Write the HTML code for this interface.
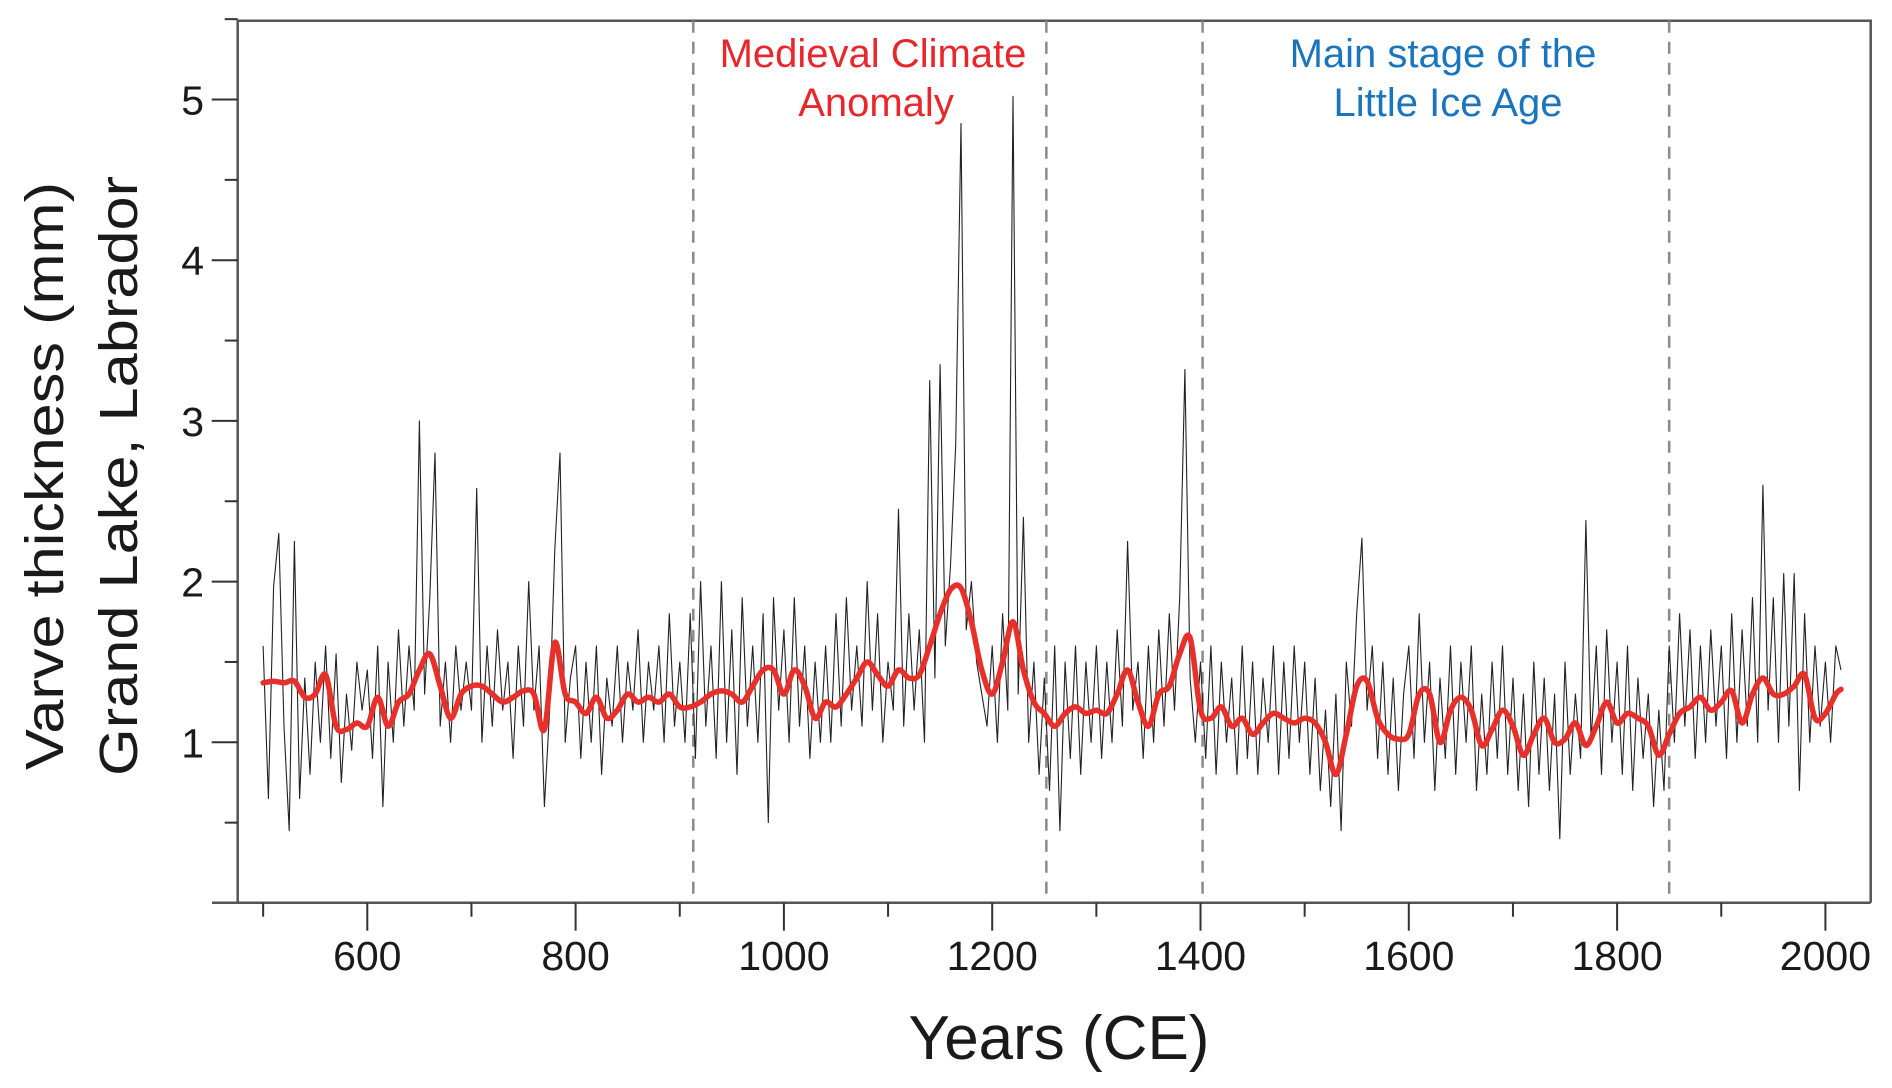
<!DOCTYPE html>
<html><head><meta charset="utf-8"><style>
html,body{margin:0;padding:0;background:#fff;}
svg{display:block;font-family:"Liberation Sans",Arial,sans-serif;}
</style></head><body>
<svg id="chart" width="1892" height="1088" viewBox="0 0 1892 1088">
<g id="frame"></g>
<g id="dashes"></g>
<g id="series"></g>
<g id="axes"></g>
<text x="873" y="67" text-anchor="middle" font-size="40" fill="#e8262b">Medieval Climate</text>
<text x="876" y="116" text-anchor="middle" font-size="40" fill="#e8262b">Anomaly</text>
<text x="1443" y="67" text-anchor="middle" font-size="40" fill="#1b75bc">Main stage of the</text>
<text x="1448" y="116" text-anchor="middle" font-size="40" fill="#1b75bc">Little Ice Age</text>
<text x="1059" y="1059" text-anchor="middle" font-size="62" fill="#1a1a1a">Years (CE)</text>
<text transform="translate(63,476) rotate(-90)" text-anchor="middle" font-size="54" fill="#1a1a1a" textLength="588" lengthAdjust="spacingAndGlyphs">Varve thickness (mm)</text>
<text transform="translate(137,476) rotate(-90)" text-anchor="middle" font-size="54" fill="#1a1a1a" textLength="600" lengthAdjust="spacingAndGlyphs">Grand Lake, Labrador</text>
</svg>
<script>
const startYear = 500;
const stepYears = 5;
const varveValues = [
1.6,0.65,1.97,2.3,1.1,0.45,2.25,0.65,1.4,0.8,1.5,1.0,1.6,0.9,1.55,0.75,1.3,0.95,1.5,1.2,
1.45,0.9,1.6,0.6,1.5,1.0,1.7,1.1,1.6,1.2,3.0,1.3,1.9,2.8,1.1,1.5,1.0,1.6,1.2,1.5,
1.2,2.58,1.0,1.6,1.1,1.7,1.2,1.5,0.9,1.6,1.1,2.0,1.2,1.6,0.6,1.2,2.2,2.8,1.0,1.4,
1.6,0.9,1.5,1.0,1.6,0.8,1.4,1.1,1.6,1.0,1.5,1.2,1.7,1.0,1.5,1.2,1.6,1.0,1.8,1.1,
1.5,1.0,1.8,0.9,2.0,1.1,1.6,0.9,2.0,1.0,1.7,0.8,1.9,1.1,1.6,1.0,1.8,0.5,1.9,1.2,
1.7,1.0,1.9,1.1,1.6,0.9,1.5,1.0,1.6,1.0,1.8,1.1,1.9,1.2,1.6,1.1,2.0,1.2,1.8,1.0,
1.5,1.2,2.45,1.1,1.8,1.2,1.7,1.0,3.25,1.4,3.35,1.6,2.1,2.85,4.85,1.7,2.0,1.5,1.3,1.1,
1.6,1.0,1.8,1.2,5.02,1.3,2.4,1.0,1.5,0.8,1.4,0.7,1.6,0.45,1.5,0.9,1.6,0.8,1.5,1.0,
1.6,0.9,1.5,1.0,1.7,1.1,2.25,1.2,1.5,0.9,1.6,1.0,1.7,1.1,1.8,1.2,1.9,3.32,1.4,1.0,
1.5,0.9,1.6,0.8,1.5,1.0,1.4,0.8,1.6,0.9,1.5,0.8,1.4,1.0,1.6,0.8,1.5,0.9,1.6,1.0,
1.5,0.8,1.4,0.7,1.2,0.6,1.3,0.45,1.5,1.1,1.8,2.27,1.2,1.6,0.9,1.5,0.8,1.4,0.7,1.3,
1.6,0.9,1.8,1.0,1.5,0.7,1.4,0.9,1.6,0.8,1.5,1.0,1.6,0.7,1.3,0.8,1.5,0.9,1.6,0.8,
1.4,0.7,1.3,0.6,1.5,0.8,1.4,0.7,1.3,0.4,1.5,0.8,1.3,0.9,2.38,1.0,1.6,0.8,1.7,1.0,
1.5,0.8,1.6,0.7,1.4,0.9,1.3,0.6,1.2,0.7,1.6,1.0,1.8,1.1,1.7,0.9,1.6,1.0,1.7,1.1,
1.6,0.9,1.8,1.0,1.7,1.1,1.9,1.0,2.6,1.2,1.9,1.0,2.05,1.1,2.05,0.7,1.8,1.0,1.6,1.1,
1.5,1.0,1.6,1.45
];
const smoothYears = [500,510,520,530,540,550,560,570,580,590,600,610,620,630,640,650,660,670,680,690,700,710,720,730,740,750,760,770,780,790,800,810,820,830,840,850,860,870,880,890,900,910,920,930,940,950,960,970,980,990,1000,1010,1020,1030,1040,1050,1060,1070,1080,1090,1100,1110,1120,1130,1140,1150,1160,1170,1180,1190,1200,1210,1220,1230,1240,1250,1260,1270,1280,1290,1300,1310,1320,1330,1340,1350,1360,1370,1380,1390,1400,1410,1420,1430,1440,1450,1460,1470,1480,1490,1500,1510,1520,1530,1540,1550,1560,1570,1580,1590,1600,1610,1620,1630,1640,1650,1660,1670,1680,1690,1700,1710,1720,1730,1740,1750,1760,1770,1780,1790,1800,1810,1820,1830,1840,1850,1860,1870,1880,1890,1900,1910,1920,1930,1940,1950,1960,1970,1980,1990,2000,2010,2015];
const smoothValues = [1.37,1.38,1.37,1.38,1.28,1.3,1.42,1.1,1.08,1.12,1.1,1.28,1.1,1.25,1.3,1.45,1.55,1.35,1.15,1.3,1.35,1.35,1.3,1.25,1.28,1.32,1.3,1.08,1.62,1.3,1.25,1.18,1.28,1.15,1.2,1.3,1.25,1.28,1.25,1.3,1.22,1.22,1.25,1.3,1.32,1.3,1.25,1.35,1.45,1.45,1.3,1.45,1.35,1.15,1.25,1.22,1.3,1.4,1.5,1.42,1.35,1.45,1.4,1.42,1.6,1.8,1.95,1.96,1.75,1.45,1.3,1.5,1.75,1.45,1.25,1.18,1.1,1.18,1.22,1.18,1.2,1.18,1.3,1.45,1.25,1.1,1.3,1.35,1.55,1.65,1.2,1.15,1.22,1.1,1.15,1.05,1.12,1.18,1.15,1.12,1.15,1.12,1.0,0.8,1.05,1.35,1.38,1.15,1.05,1.02,1.05,1.3,1.3,1.0,1.2,1.28,1.2,0.98,1.08,1.2,1.1,0.92,1.05,1.15,1.0,1.02,1.12,0.98,1.1,1.25,1.12,1.18,1.15,1.1,0.92,1.05,1.18,1.22,1.28,1.2,1.25,1.32,1.12,1.3,1.4,1.3,1.3,1.35,1.42,1.15,1.18,1.3,1.33];
const xTickLabels = [600,800,1000,1200,1400,1600,1800,2000];
const yTickLabels = [1,2,3,4,5];
const boundaryYears = [913,1252,1402,1850];

const NS='http://www.w3.org/2000/svg';
const xs = yr => 367.3 + (yr-600)*1.0415;
const ys = v => 903 - v*160.7;
function mk(tag, parent, attrs){const e=document.createElementNS(NS,tag);for(const k in attrs)e.setAttribute(k,attrs[k]);parent.appendChild(e);return e;}
const frame=document.getElementById('frame'), axes=document.getElementById('axes'), dashes=document.getElementById('dashes'), series=document.getElementById('series');
const L=237.7,R=1870.7,T=20.7,B=902.7;
let f=mk('path',frame,{d:`M${L},${B} L${L},${T} L${R},${T} L${R},${B}`,fill:'none',stroke:'#555',"stroke-width":2.5});


let xa=mk('line',axes,{x1:212,x2:R,y1:B,y2:B,stroke:'#555',"stroke-width":2.5});


for(let yr=500;yr<=2000;yr+=100){
  const major = yr%200===0;
  const t=mk('line',axes,{x1:xs(yr),x2:xs(yr),y1:B,y2:B+(major?28:14),stroke:'#333',"stroke-width":2});
  
  
}
xTickLabels.forEach(v=>{
  const t=mk('text',axes,{x:xs(v),y:970,"text-anchor":'middle',"font-size":41,fill:'#1a1a1a'});
  t.textContent=v;
  
  
});
for(let i=1;i<=11;i++){
  const v=i*0.5, major=(i%2===0);
  const t=mk('line',axes,{x1:L-(major?26:13),x2:L,y1:ys(v),y2:ys(v),stroke:'#333',"stroke-width":2});
  
  
}
yTickLabels.forEach(v=>{
  const t=mk('text',axes,{x:204,y:ys(v)+15,"text-anchor":'end',"font-size":41,fill:'#1a1a1a'});
  t.textContent=v;
  
  
});
boundaryYears.forEach(yr=>{
  const d=mk('line',dashes,{x1:xs(yr),x2:xs(yr),y1:T,y2:B,stroke:'#8a8a8a',"stroke-width":2.5,"stroke-dasharray":'12 9'});
  
  
});
let p='';
varveValues.forEach((v,i)=>{const yr=startYear+i*stepYears;p+=(i?'L':'M')+xs(yr).toFixed(1)+','+ys(v).toFixed(1);});
const raw=mk('path',series,{d:p,fill:'none',stroke:'#222',"stroke-width":1.1,"stroke-linejoin":'round'});


const pts=smoothValues.map((v,i)=>[xs(smoothYears[i]),ys(v)]);
let s='M'+pts[0][0].toFixed(1)+','+pts[0][1].toFixed(1);
for(let i=0;i<pts.length-1;i++){
  const p0=pts[Math.max(0,i-1)],p1=pts[i],p2=pts[i+1],p3=pts[Math.min(pts.length-1,i+2)];
  const c1=[p1[0]+(p2[0]-p0[0])/6,p1[1]+(p2[1]-p0[1])/6],c2=[p2[0]-(p3[0]-p1[0])/6,p2[1]-(p3[1]-p1[1])/6];
  s+=`C${c1[0].toFixed(1)},${c1[1].toFixed(1)} ${c2[0].toFixed(1)},${c2[1].toFixed(1)} ${p2[0].toFixed(1)},${p2[1].toFixed(1)}`;
}
const sm=mk('path',series,{d:s,fill:'none',stroke:'#e8302b',"stroke-width":5.5,"stroke-linejoin":'round',"stroke-linecap":'round'});


</script>
</body></html>
